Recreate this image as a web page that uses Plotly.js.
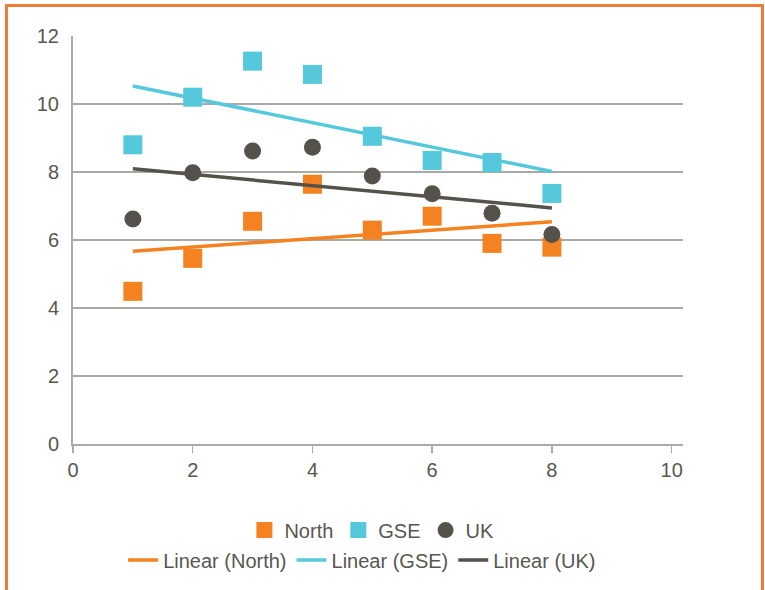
<!DOCTYPE html>
<html>
<head>
<meta charset="utf-8">
<script src="https://cdn.plot.ly/plotly-3.0.1.min.js"></script>
<style>
  html, body { margin: 0; padding: 0; background: #fff; }
  #wrap { position: relative; width: 765px; height: 590px; overflow: hidden; }
  #frame {
    position: absolute; left: 5px; top: 4px; width: 753px; height: 640px;
    border: 3px solid #f37b3a; pointer-events: none;
  }
  #chart { position: absolute; left: 0; top: 0; width: 765px; height: 590px; }
</style>
</head>
<body>
<div id="wrap">
  <div id="chart"></div>
  <div id="frame"></div>
</div>
<script>
// Period index shared by all three series
const periods = [1, 2, 3, 4, 5, 6, 7, 8];

// Series values
const north = [4.49, 5.46, 6.55, 7.64, 6.29, 6.70, 5.90, 5.79];
const gse   = [8.80, 10.20, 11.26, 10.87, 9.05, 8.34, 8.28, 7.37];
const uk    = [6.62, 7.98, 8.62, 8.73, 7.88, 7.36, 6.79, 6.16];

// Axis ticks
const xTicks = [0, 2, 4, 6, 8, 10];
const yTicks = [0, 2, 4, 6, 8, 10, 12];

const ORANGE = '#f58220';
const CYAN = '#55c8dc';
const DARK = '#54524a';
const TEXT = '#58574f';
const GRID = '#aaaaa4';
const FONT = 'Liberation Sans, Arial, sans-serif';

// Least-squares linear fit, evaluated at the first and last period
function linearFit(xs, ys) {
  const n = xs.length;
  const mx = xs.reduce((a, b) => a + b, 0) / n;
  const my = ys.reduce((a, b) => a + b, 0) / n;
  let sxy = 0, sxx = 0;
  for (let i = 0; i < n; i++) {
    sxy += (xs[i] - mx) * (ys[i] - my);
    sxx += (xs[i] - mx) * (xs[i] - mx);
  }
  const slope = sxy / sxx;
  const x0 = xs[0], x1 = xs[n - 1];
  return { x: [x0, x1], y: [my + slope * (x0 - mx), my + slope * (x1 - mx)] };
}

function markerTrace(name, ys, color, symbol, size) {
  return {
    type: 'scatter', mode: 'markers', name: name,
    x: periods, y: ys, legend: 'legend',
    marker: { color: color, symbol: symbol, size: size, line: { width: 0 } },
    cliponaxis: false
  };
}

function trendTrace(name, ys, color) {
  const f = linearFit(periods, ys);
  return {
    type: 'scatter', mode: 'lines', name: 'Linear (' + name + ')',
    x: f.x, y: f.y, legend: 'legend2',
    line: { color: color, width: 3.5 }
  };
}

const data = [
  markerTrace('North', north, ORANGE, 'square', 19),
  markerTrace('GSE', gse, CYAN, 'square', 19),
  markerTrace('UK', uk, DARK, 'circle', 17),
  trendTrace('North', north, ORANGE),
  trendTrace('GSE', gse, CYAN),
  trendTrace('UK', uk, DARK)
];

const legendBase = {
  orientation: 'h', xanchor: 'center', yanchor: 'middle',
  font: { family: FONT, size: 20, color: TEXT },
  bgcolor: 'rgba(0,0,0,0)', itemclick: false, itemdoubleclick: false,
  tracegroupgap: 0, itemwidth: 30
};

const layout = {
  width: 765, height: 590,
  margin: { l: 73, r: 82, t: 36, b: 145 },
  paper_bgcolor: '#ffffff', plot_bgcolor: '#ffffff',
  font: { family: FONT, size: 20, color: TEXT },
  showlegend: true,
  xaxis: {
    range: [0, 10.19], tickvals: xTicks, ticktext: xTicks.map(String),
    showgrid: false, zeroline: false,
    showline: true, linecolor: GRID, linewidth: 2,
    ticks: 'outside', ticklen: 7, tickwidth: 1.5, tickcolor: GRID,
    tickfont: { family: FONT, size: 20, color: TEXT },
    fixedrange: true
  },
  yaxis: {
    range: [0, 12], tickvals: yTicks, ticktext: yTicks.map(String),
    showgrid: true, gridcolor: GRID, gridwidth: 2,
    zeroline: false,
    showline: true, linecolor: GRID, linewidth: 2,
    ticks: '', ticklabelstandoff: 8,
    tickfont: { family: FONT, size: 20, color: TEXT },
    fixedrange: true
  },
  legend: Object.assign({}, legendBase, { x: 0.49, y: -0.208 }),
  legend2: Object.assign({}, legendBase, { x: 0.474, y: -0.281 })
};

Plotly.newPlot('chart', data, layout, { displayModeBar: false, staticPlot: true });
</script>
</body>
</html>
